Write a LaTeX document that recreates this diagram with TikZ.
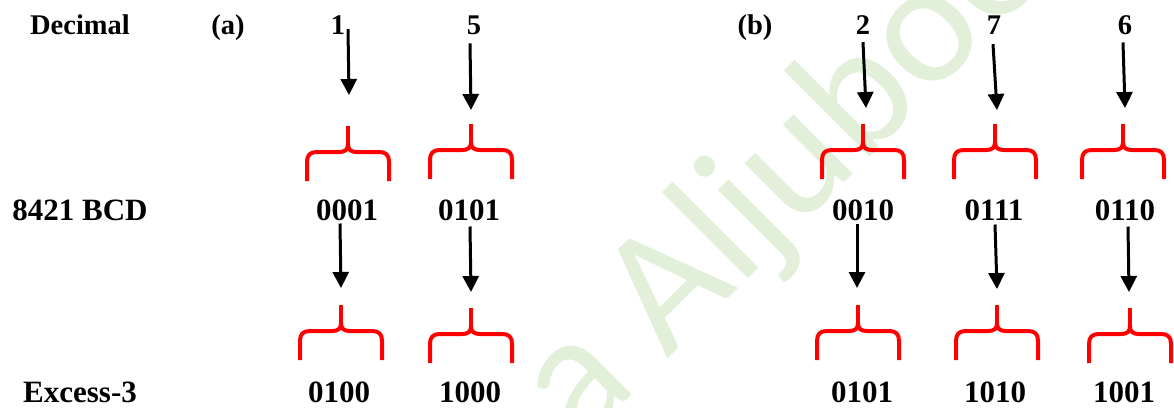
\documentclass[tikz,border=0pt]{standalone}
\usepackage{fontspec}
\setmainfont{Liberation Serif}
\newfontfamily\wmfont{Carlito}
\usetikzlibrary{arrows.meta}
\definecolor{wmgreen}{RGB}{226,239,217}
\definecolor{bracered}{RGB}{255,0,0}
\tikzset{
  labA/.style={font=\fontsize{28.5}{30}\selectfont\bfseries, anchor=base, inner sep=0pt},
  labB/.style={font=\fontsize{31}{33}\selectfont\bfseries, anchor=base, inner sep=0pt},
  arr/.style={line width=3pt, -{Triangle[width=16pt,length=16pt]}},
  brace/.style={draw=bracered, line width=4pt, line join=round},
  rbrace/.pic={
    \draw[brace] (-41,55) -- (-41,36) .. controls (-41,29) and (-38,26) .. (-31,26)
      -- (-9,26) .. controls (-3,26) and (0,24) .. (0,18)
      .. controls (0,24) and (3,26) .. (9,26) -- (31,26)
      .. controls (38,26) and (41,29) .. (41,36) -- (41,55);
    \draw[brace] (0,18) -- (0,0);
  }
}
\begin{document}
\begin{tikzpicture}[x=1pt,y=-1pt]
\useasboundingbox (0,0) rectangle (1174,407);
% watermark
\begin{scope}
  \clip (0,0) rectangle (1174,407);
  \node[anchor=base west, rotate=45, inner sep=0pt, text=wmgreen,
        font=\wmfont\fontsize{175}{175}\selectfont] (wm) at (580,447) {a Aljuboori};
\end{scope}
% left labels
\node[labA] (dec) at (80,34) {Decimal};
\node[labB] (bcd) at (80,220) {8421 BCD};
\node[labB] (ex3) at (80,402) {Excess-3};
\node[labA] (pa) at (228,34) {(a)};
\node[labA] (pb) at (755,34) {(b)};
% decimal digits
\node[labA] (d1) at (338,34) {1};
\node[labA] (d5) at (474,34) {5};
\node[labA] (d2) at (863,34) {2};
\node[labA] (d7) at (994,34) {7};
\node[labA] (d6) at (1125,34) {6};
% BCD codes
\node[labB] (b1) at (347,220) {0001};
\node[labB] (b5) at (469,220) {0101};
\node[labB] (b2) at (863,220) {0010};
\node[labB] (b7) at (994,220) {0111};
\node[labB] (b6) at (1125,220) {0110};
% Excess-3 codes
\node[labB] (e1) at (339,402) {0100};
\node[labB] (e5) at (470,402) {1000};
\node[labB] (e2) at (862,402) {0101};
\node[labB] (e7) at (995,402) {1010};
\node[labB] (e6) at (1124,402) {1001};
% arrow ends
\coordinate (t1) at (349,95);
\coordinate (t5) at (471,110);
\coordinate (t2) at (866,108);
\coordinate (t7) at (997,110);
\coordinate (t6) at (1125,108);
\coordinate (u1) at (341,288);
\coordinate (u5) at (471,292);
\coordinate (u2) at (857,288);
\coordinate (u7) at (997,289);
\coordinate (u6) at (1129,292);
% arrows row 1
\draw[arr] ([xshift=10pt,yshift=5pt]d1.south) -- (t1);
\draw[arr] ([xshift=-4pt,yshift=-9pt]d5.south) -- (t5);
\draw[arr] ([xshift=0pt,yshift=-8pt]d2.south) -- (t2);
\draw[arr] ([xshift=-1pt,yshift=-10pt]d7.south) -- (t7);
\draw[arr] ([xshift=-2pt,yshift=-8pt]d6.south) -- (t6);
% arrows row 2
\draw[arr] ([xshift=-7pt,yshift=-3pt]b1.south) -- (u1);
\draw[arr] ([xshift=1pt,yshift=-6pt]b5.south) -- (u5);
\draw[arr] ([xshift=-6pt,yshift=-3pt]b2.south) -- (u2);
\draw[arr] ([xshift=1pt,yshift=-4pt]b7.south) -- (u7);
\draw[arr] ([xshift=3pt,yshift=-6pt]b6.south) -- (u6);
% braces row 1
\pic (br1) at (348,126) {rbrace};
\pic (br5) at (471,124) {rbrace};
\pic (br2) at (863,124) {rbrace};
\pic (br7) at (995,124) {rbrace};
\pic (br6) at (1123,124) {rbrace};
% braces row 2
\pic (bs1) at (341,305) {rbrace};
\pic (bs5) at (471,308) {rbrace};
\pic (bs2) at (858,305) {rbrace};
\pic (bs7) at (997,305) {rbrace};
\pic (bs6) at (1130,308) {rbrace};
\end{tikzpicture}
\end{document}
